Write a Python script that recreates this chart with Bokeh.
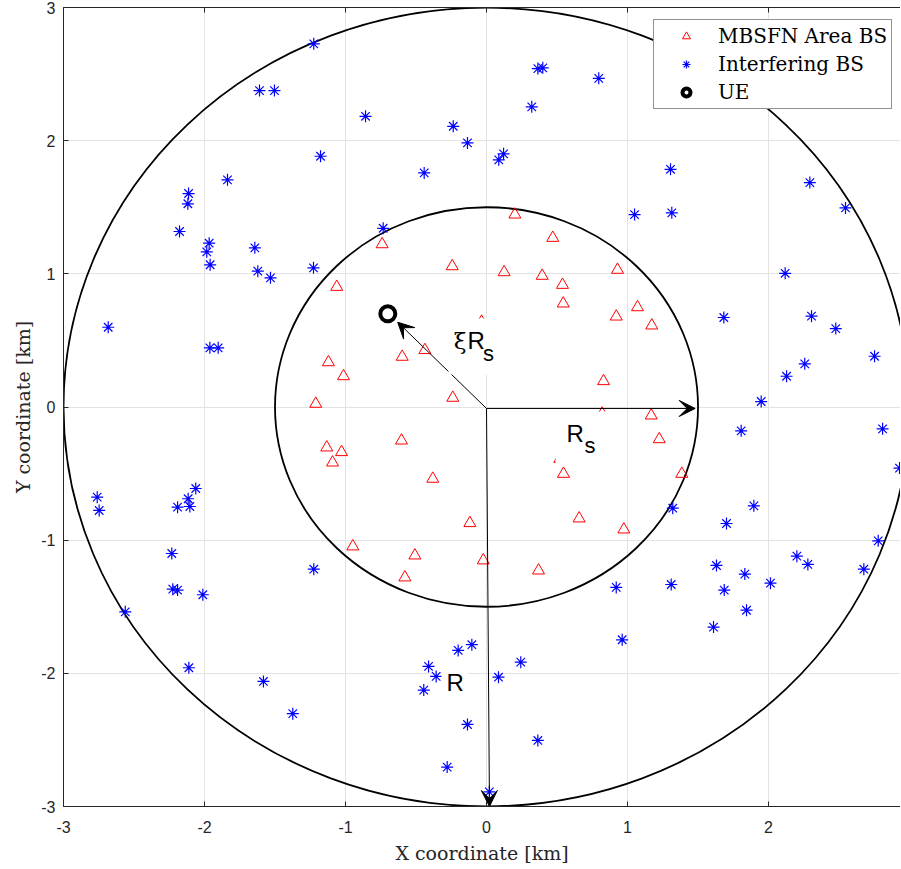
import numpy as np
from bokeh.plotting import figure
from bokeh.models import (Range1d, LinearAxis, FixedTicker, Arrow, VeeHead, Label,
                          BoxAnnotation)
from bokeh.embed import file_html
from bokeh.resources import INLINE

# ---------------- data ----------------
R = 3.0          # outer radius [km]
Rs = 1.5         # MBSFN area radius [km]
ue_x = [-0.70]
ue_y = [0.70]

mbsfn_x = [-0.740, -0.243, -1.062, -0.598, -0.437, -1.121, -1.014, -0.239, -1.211,
           0.201, 0.470, 0.125, 0.395, 0.539, 0.544, 0.929, 1.071, 0.920, 1.172, 0.830,
           -0.603, -1.133, -1.028, -1.092, -0.381, -0.118, -0.948, -0.508, -0.579, -0.023,
           1.168, 1.225, 1.385, 0.546, 0.657, 0.974, 0.369,
           -0.035, 0.820, 0.520]
mbsfn_y = [1.222, 1.057, 0.902, 0.377, 0.427, 0.336, 0.231, 0.069, 0.024,
           1.445, 1.270, 1.012, 0.985, 0.917, 0.777, 1.030, 0.749, 0.679, 0.612, 0.194,
           -0.252, -0.304, -0.339, -0.417, -0.539, -0.872, -1.047, -1.115, -1.280, -1.152,
           -0.064, -0.242, -0.502, -0.502, -0.837, -0.920, -1.228,
           0.640, -0.050, -0.390]

interf_x = [-1.225, -1.610, -1.504, -0.858, -0.236, -0.135, -1.177, -0.442, -1.837, -2.113,
            -2.118, -2.177, -1.967, -1.984, -1.960, -1.643, -1.622, -1.532, -1.227, -0.733,
            -2.683, -1.962, -1.903,
            0.364, 0.399, 0.796, 0.321, 0.087, 0.121, 1.305, 2.293, 2.546, 1.050,
            1.314, 2.118, 1.683, 2.305, 2.477, 2.752, 2.257, 2.128, 1.948,
            -2.761, -2.747, -2.062, -2.116, -2.191, -2.104, -2.232, -2.225, -2.191, -2.012,
            -2.562, -1.225, -2.111, -1.582, -1.374, -0.104, -0.201, -0.411, -0.357, -0.445,
            -0.135, -0.279,
            1.806, 2.809, 2.929, 1.321, 1.896, 1.702, 2.778, 2.201, 2.279, 1.631,
            1.832, 2.014, 2.676, 0.920, 1.310, 1.686, 1.844, 1.610, 0.962, 0.243,
            0.085, 0.364, 0.020]
interf_y = [2.727, 2.376, 2.376, 2.183, 2.108, 1.983, 1.883, 1.758, 1.706, 1.603,
            1.526, 1.318, 1.230, 1.165, 1.068, 1.195, 1.020, 0.970, 1.045, 1.342,
            0.599, 0.444, 0.444,
            2.541, 2.547, 2.468, 2.254, 1.856, 1.901, 1.785, 1.685, 1.495, 1.445,
            1.458, 1.004, 0.672, 0.682, 0.589, 0.381, 0.324, 0.231, 0.041,
            -0.677, -0.777, -0.612, -0.689, -0.752, -0.747, -1.100, -1.368, -1.375, -1.410,
            -1.538, -1.218, -1.958, -2.061, -2.303, -1.785, -1.828, -1.948, -2.023, -2.126,
            -2.384, -2.704,
            -0.179, -0.164, -0.459, -0.760, -0.742, -0.875, -1.005, -1.120, -1.182, -1.190,
            -1.255, -1.323, -1.218, -1.355, -1.333, -1.375, -1.526, -1.653, -1.748, -1.916,
            -2.029, -2.504, -2.890]

x_ticks = [-3, -2, -1, 0, 1, 2]
x_tick_labels = ["-3", "-2", "-1", "0", "1", "2"]
y_ticks = [-3, -2, -1, 0, 1, 2, 3]
y_tick_labels = ["-3", "-2", "-1", "0", "1", "2", "3"]

# ---------------- figure ----------------
AX = "#262626"
GRID = "#e3e3e3"
SERIF = "DejaVu Serif"
SANS = "Liberation Sans"

p = figure(frame_width=837, frame_height=799,
           x_range=Range1d(-3, 2.936), y_range=Range1d(-3, 3),
           output_backend="svg", toolbar_location=None,
           min_border_left=63, min_border_right=0, min_border_top=7,
           min_border_bottom=56, background_fill_color="white",
           border_fill_color="white")
p.outline_line_color = None

for ax, ticks, labels, lab in ((p.xaxis[0], x_ticks, x_tick_labels, "X coordinate [km]"),
                               (p.yaxis[0], y_ticks, y_tick_labels, "Y coordinate [km]")):
    ax.ticker = FixedTicker(ticks=ticks)
    ax.major_label_overrides = {t: l for t, l in zip(ticks, labels)}
    ax.major_tick_in = 5
    ax.major_tick_out = 0
    ax.minor_tick_line_color = None
    ax.axis_line_color = AX
    ax.major_tick_line_color = AX
    ax.major_label_text_font = SANS
    ax.major_label_text_font_size = "16px"
    ax.major_label_text_color = "#262626"
    ax.axis_label = lab
    ax.axis_label_text_font = SERIF
    ax.axis_label_text_font_size = "19px"
    ax.axis_label_text_font_style = "normal"
    ax.axis_label_text_color = "#262626"

p.xaxis[0].major_label_standoff = 14
p.xaxis[0].axis_label_standoff = 6
p.yaxis[0].major_label_standoff = 8
p.yaxis[0].axis_label_standoff = 4

top = LinearAxis(ticker=FixedTicker(ticks=x_ticks), major_label_text_font_size="0px",
                 major_label_standoff=0, major_tick_in=5, major_tick_out=0,
                 minor_tick_line_color=None, axis_line_color=AX, major_tick_line_color=AX)
p.add_layout(top, "above")

p.xgrid.ticker = FixedTicker(ticks=x_ticks)
p.ygrid.ticker = FixedTicker(ticks=y_ticks)
p.xgrid.grid_line_color = GRID
p.ygrid.grid_line_color = GRID

# circles
p.ellipse(x=[0, 0], y=[0, 0], width=[2 * R, 2 * Rs], height=[2 * R, 2 * Rs],
          fill_alpha=0, line_color="black", line_width=1.8)

# markers
p.scatter(mbsfn_x, mbsfn_y, marker="triangle", size=12, line_color="#ff0000",
          fill_alpha=0, line_width=1, legend_label="MBSFN Area BS")
p.scatter(interf_x, interf_y, marker="asterisk", size=12, line_color="#0000ff",
          line_width=1.2, legend_label="Interfering BS")
p.scatter(ue_x, ue_y, marker="circle", size=15, line_color="black", fill_color="white",
          line_width=4, legend_label="UE")

# arrows
y0 = -0.011
head = dict(size=16, fill_color="black", line_color="black", line_width=1)
p.add_layout(Arrow(end=VeeHead(**head), x_start=0, y_start=y0,
                   x_end=ue_x[0] * 0.9, y_end=ue_y[0] * 0.91, line_width=1, line_color="black"))
p.add_layout(Arrow(end=VeeHead(**head), x_start=0, y_start=y0,
                   x_end=Rs - 0.02, y_end=y0, line_width=1, line_color="black"))
p.add_layout(Arrow(end=VeeHead(**head), x_start=0, y_start=y0,
                   x_end=0.021, y_end=-R, line_width=1, line_color="black"))

# label background boxes
for l, r, t, b in ((-0.270, 0.085, 0.664, 0.244),
                   (0.490, 0.887, -0.034, -0.445),
                   (-0.319, -0.135, -1.933, -2.203)):
    p.add_layout(BoxAnnotation(left=l, right=r, top=t, bottom=b, fill_color="white",
                               fill_alpha=1, line_alpha=0))

def lab(x, y, text, size, font=SANS, style="normal"):
    p.add_layout(Label(x=x, y=y, text=text, text_font=font, text_font_size=size,
                       text_font_style=style, text_color="black",
                       text_baseline="alphabetic", text_align="left"))

dy = 0.075
lab(-0.232, 0.424 + dy, "ξ", "23px", font=SERIF)
lab(-0.135, 0.424 + dy, "R", "24px")
lab(-0.025, 0.327 + dy, "s", "22px")
lab(0.567, -0.274 + dy, "R", "24px")
lab(0.695, -0.364 + dy, "s", "22px")
lab(-0.284, -2.143 + dy, "R", "24px")

# legend
lg = p.legend[0]
lg.location = (590, 697)
lg.background_fill_color = "white"
lg.background_fill_alpha = 1
lg.border_line_color = AX
lg.border_line_width = 1
lg.padding = 4
lg.glyph_width = 56
lg.glyph_height = 20
lg.label_height = 20
lg.label_standoff = 4
lg.spacing = 4
lg.margin = 0
lg.label_text_font = SERIF
lg.label_text_font_size = "20px"
lg.label_text_color = "black"

open("out.html", "w").write(file_html(p, INLINE))
